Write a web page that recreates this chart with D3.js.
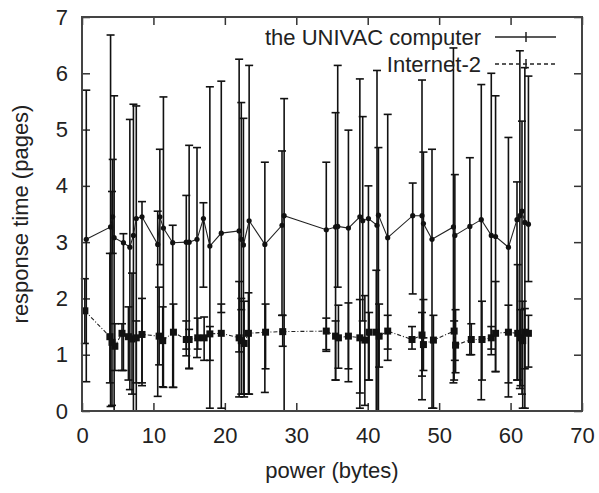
<!DOCTYPE html>
<html lang="en">
<head>
    <meta charset="UTF-8">
    <title>Response time vs power</title>
    <script src="https://d3js.org/d3.v7.min.js"></script>
    <style>
        body { margin: 0; background: white; }
        svg { display: block; font-family: "Liberation Sans", Arial, sans-serif; }
    </style>
</head>
<body>
<script>
    // UNIVAC series: x, y, lower and upper error bar ends
    const univacX  = [0.6, 4.0, 4.3, 4.5, 5.8, 6.7, 7.2, 7.6, 8.4, 10.6, 10.9, 11.4, 12.7, 14.6, 15.0, 16.1, 17.0, 17.9, 19.5, 22.0, 22.3, 22.6, 23.4, 25.6, 28.0, 28.3, 34.2, 35.5, 35.8, 37.3, 38.9, 39.3, 40.1, 41.3, 41.5, 42.8, 46.3, 47.6, 47.8, 49.0, 52.0, 52.2, 54.3, 55.9, 57.3, 57.9, 59.7, 60.9, 61.3, 61.6, 62.0, 62.5];
    const univacY  = [3.05, 3.27, 3.45, 3.08, 2.99, 2.91, 3.12, 3.42, 3.45, 2.96, 3.45, 3.25, 2.99, 3.0, 3.0, 3.05, 3.42, 2.93, 3.16, 3.2, 3.05, 2.95, 3.38, 2.96, 3.3, 3.47, 3.22, 3.27, 3.28, 3.25, 3.45, 3.38, 3.42, 3.3, 3.48, 3.08, 3.47, 3.47, 3.33, 3.05, 3.27, 3.12, 3.28, 3.4, 3.12, 3.1, 2.91, 3.4, 3.47, 3.55, 3.35, 3.32];
    const univacLo = [0.52, 0.08, 2.8, 0.0, 0.72, 0.38, 0.0, 0.5, 0.45, 0.26, 2.6, 0.42, 0.42, 0.98, 0.76, 0.95, 2.2, 0.05, 1.75, 0.25, 1.8, 0.3, 0.3, 0.33, 1.7, 0.0, 1.09, 0.55, 2.2, 0.52, 0.05, 1.6, 0.55, 0.0, 0.0, 0.9, 2.08, 0.2, 1.3, 0.05, 0.5, 0.9, 1.0, 0.2, 1.0, 0.7, 0.25, 0.55, 0.4, 0.3, 0.05, 2.3];
    const univacHi = [5.7, 6.68, 4.47, 5.6, 3.15, 5.18, 5.45, 5.42, 3.72, 3.55, 4.65, 5.58, 3.3, 3.83, 4.72, 4.68, 3.7, 5.76, 5.86, 6.25, 5.48, 5.2, 6.14, 4.42, 4.62, 5.55, 4.42, 5.3, 6.14, 4.99, 5.9, 5.23, 4.0, 6.05, 4.68, 5.27, 4.05, 5.88, 4.6, 4.65, 6.45, 4.2, 4.5, 5.8, 6.0, 5.6, 4.86, 4.07, 6.4, 5.15, 6.1, 5.95];

    // Internet-2 series
    const inetX  = [0.4, 3.9, 4.2, 4.6, 5.6, 6.5, 7.0, 7.6, 8.4, 10.8, 11.3, 12.8, 14.6, 15.0, 16.2, 17.1, 17.9, 19.5, 22.0, 22.3, 22.7, 23.3, 25.7, 28.1, 34.2, 35.5, 35.9, 37.3, 38.9, 39.6, 40.2, 41.2, 41.6, 42.8, 46.2, 47.6, 47.8, 49.2, 52.1, 52.3, 54.5, 56.0, 57.3, 57.9, 59.7, 61.0, 61.4, 61.7, 62.0, 62.5];
    const inetY  = [1.78, 1.32, 1.22, 1.15, 1.38, 1.32, 1.28, 1.3, 1.36, 1.33, 1.25, 1.4, 1.27, 1.27, 1.3, 1.3, 1.37, 1.38, 1.3, 1.25, 1.2, 1.38, 1.4, 1.41, 1.42, 1.33, 1.3, 1.33, 1.3, 1.26, 1.4, 1.4, 1.33, 1.42, 1.27, 1.35, 1.18, 1.26, 1.42, 1.17, 1.27, 1.27, 1.3, 1.38, 1.4, 1.38, 1.3, 1.25, 1.4, 1.38];
    const inetLo = [1.2, 0.5, 0.1, 0.72, 0.72, 0.55, 0.3, 0.0, 0.5, 0.82, 0.43, 0.42, 1.1, 0.75, 1.1, 0.9, 0.9, 0.05, 1.05, 0.3, 0.25, 0.3, 0.75, 1.15, 1.06, 0.55, 0.76, 0.75, 0.32, 0.1, 0.55, 0.0, 0.78, 1.1, 1.1, 0.62, 0.72, 0.05, 0.55, 0.68, 1.0, 0.55, 1.1, 0.7, 0.5, 0.55, 0.45, 0.05, 0.75, 0.78];
    const inetHi = [2.35, 2.8, 3.9, 1.55, 1.55, 1.85, 2.45, 1.6, 2.0, 2.2, 1.85, 1.9, 1.6, 1.45, 1.65, 1.67, 1.5, 1.9, 2.3, 2.0, 1.95, 2.1, 1.9, 1.7, 1.65, 1.6, 1.88, 1.92, 1.98, 2.05, 1.75, 2.5, 1.9, 1.7, 1.5, 1.75, 1.98, 1.7, 1.6, 1.8, 1.55, 1.95, 1.5, 2.3, 1.88, 2.6, 1.8, 1.95, 1.82, 1.7];

    const xTicks = [0, 10, 20, 30, 40, 50, 60, 70];
    const yTicks = [0, 1, 2, 3, 4, 5, 6, 7];
    const seriesNames = ["the UNIVAC computer", "Internet-2"];

    const margin = {top: 17, right: 17, bottom: 82, left: 82};
    const W = 599, H = 493;
    const width = W - margin.left - margin.right;
    const height = H - margin.top - margin.bottom;

    const svg = d3.select("body").append("svg")
        .attr("width", W)
        .attr("height", H);

    const g = svg.append("g")
        .attr("transform", `translate(${margin.left},${margin.top})`);

    const x = d3.scaleLinear().domain([0, 70]).range([0, width]);
    const y = d3.scaleLinear().domain([0, 7]).range([height, 0]);

    const ink = "#111";
    const tickLen = 8;

    // ticks on all four sides, pointing inward (gnuplot style)
    g.append("g").attr("transform", `translate(0,${height})`)
        .call(d3.axisBottom(x).tickValues(xTicks).tickSize(-tickLen).tickPadding(16).tickFormat(d3.format("d")));
    g.append("g")
        .call(d3.axisTop(x).tickValues(xTicks).tickSize(-tickLen).tickFormat(""));
    g.append("g")
        .call(d3.axisLeft(y).tickValues(yTicks).tickSize(-tickLen).tickPadding(14).tickFormat(d3.format("d")));
    g.append("g").attr("transform", `translate(${width},0)`)
        .call(d3.axisRight(y).tickValues(yTicks).tickSize(-tickLen).tickFormat(""));

    g.selectAll(".domain").remove();
    g.selectAll(".tick line").attr("stroke", "#333").attr("stroke-width", 1.5);
    g.selectAll(".tick text").attr("fill", "#222").style("font-size", "22px");

    function drawSeries(xs, ys, lo, hi, dash, marker) {
        const pts = xs.map((v, i) => ({x: v, y: ys[i], lo: lo[i], hi: hi[i]}));
        const s = g.append("g");

        // error bars
        pts.forEach(p => {
            s.append("line")
                .attr("x1", x(p.x)).attr("x2", x(p.x))
                .attr("y1", y(p.lo)).attr("y2", y(p.hi))
                .attr("stroke", ink).attr("stroke-width", 1.6);
            [p.lo, p.hi].forEach(v => {
                s.append("line")
                    .attr("x1", x(p.x) - 4).attr("x2", x(p.x) + 4)
                    .attr("y1", y(v)).attr("y2", y(v))
                    .attr("stroke", ink).attr("stroke-width", 1.6);
            });
        });

        s.append("path")
            .datum(pts)
            .attr("fill", "none")
            .attr("stroke", "#222")
            .attr("stroke-width", 1.1)
            .attr("stroke-dasharray", dash)
            .attr("d", d3.line().x(d => x(d.x)).y(d => y(d.y)));

        if (marker === "square") {
            s.selectAll("rect.pt").data(pts).enter().append("rect")
                .attr("x", d => x(d.x) - 3.5).attr("y", d => y(d.y) - 3.5)
                .attr("width", 7).attr("height", 7)
                .attr("fill", ink);
        } else {
            s.selectAll("circle.pt").data(pts).enter().append("circle")
                .attr("cx", d => x(d.x)).attr("cy", d => y(d.y))
                .attr("r", 2.6)
                .attr("fill", ink);
        }
    }

    drawSeries(univacX, univacY, univacLo, univacHi, null, "dot");
    drawSeries(inetX, inetY, inetLo, inetHi, "4,2,1,2", "square");

    // frame
    g.append("rect")
        .attr("width", width).attr("height", height)
        .attr("fill", "none").attr("stroke", "#444").attr("stroke-width", 2);

    // legend
    const legend = svg.append("g");
    const legDash = [null, "4,3"];
    seriesNames.forEach((name, i) => {
        const ly = 37 + i * 27;
        legend.append("text")
            .attr("x", 481).attr("y", ly)
            .attr("dy", "0.35em")
            .attr("text-anchor", "end")
            .attr("fill", "#222")
            .style("font-size", "22px")
            .text(name);
        legend.append("line")
            .attr("x1", 495).attr("x2", 556)
            .attr("y1", ly).attr("y2", ly)
            .attr("stroke", "#222").attr("stroke-width", 1.5)
            .attr("stroke-dasharray", legDash[i]);
        legend.append("line")
            .attr("x1", 526).attr("x2", 526)
            .attr("y1", ly - 5).attr("y2", ly + 5)
            .attr("stroke", "#222").attr("stroke-width", 1.5);
    });

    // axis titles
    svg.append("text")
        .attr("x", margin.left + width / 2).attr("y", 470)
        .attr("dy", "0.35em")
        .attr("text-anchor", "middle")
        .attr("fill", "#222")
        .style("font-size", "22px")
        .text("power (bytes)");

    svg.append("text")
        .attr("transform", `translate(20,${margin.top + height / 2}) rotate(-90)`)
        .attr("dy", "0.35em")
        .attr("text-anchor", "middle")
        .attr("fill", "#222")
        .style("font-size", "22px")
        .text("response time (pages)");
</script>
</body>
</html>
